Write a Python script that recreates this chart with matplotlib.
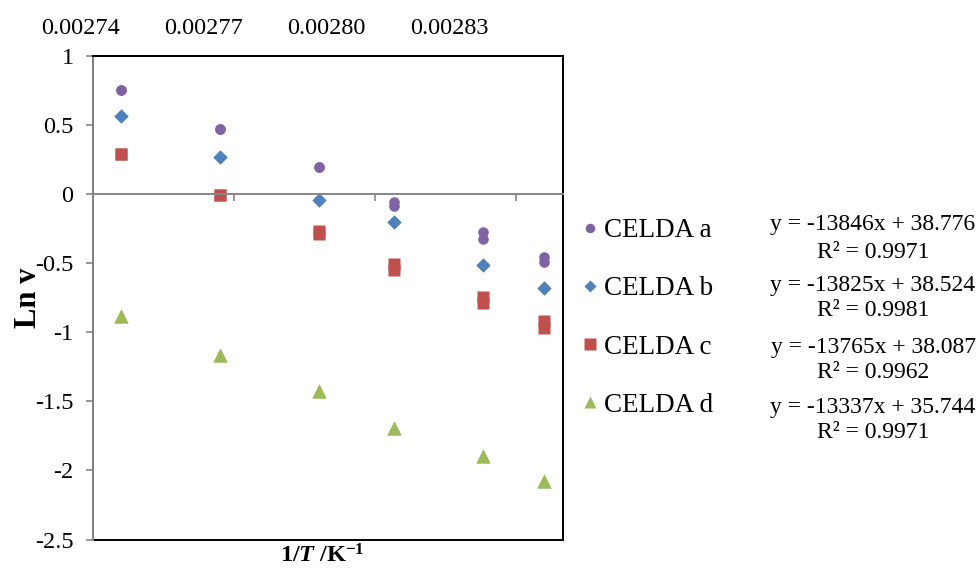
import matplotlib
matplotlib.use('Agg')
import matplotlib.pyplot as plt
from matplotlib.patches import Rectangle
from matplotlib.ticker import FuncFormatter

plt.rcParams['font.family'] = ['Liberation Serif', 'DejaVu Serif']
plt.rcParams['mathtext.fontset'] = 'custom'
plt.rcParams['mathtext.rm'] = 'Liberation Serif'
plt.rcParams['mathtext.it'] = 'Liberation Serif:italic'
plt.rcParams['mathtext.bf'] = 'Liberation Serif:bold'
plt.rcParams['mathtext.bfit'] = 'Liberation Serif:bold:italic'

# 1/T values (K^-1)
inv_T = [0.002746, 0.002767, 0.002788, 0.002804, 0.002823, 0.002836]

# Ln v, two replicates per cell (they overlap where equal)
celda_a_1 = [0.750, 0.470, 0.193, -0.061, -0.278, -0.459]
celda_a_2 = [0.750, 0.470, 0.193, -0.090, -0.323, -0.495]
celda_b_1 = [0.561, 0.270, -0.041, -0.205, -0.512, -0.680]
celda_b_2 = [0.561, 0.270, -0.041, -0.205, -0.512, -0.680]
celda_c_1 = [0.289, -0.005, -0.266, -0.510, -0.748, -0.917]
celda_c_2 = [0.289, -0.005, -0.288, -0.550, -0.789, -0.968]
celda_d_1 = [-0.886, -1.168, -1.423, -1.693, -1.894, -2.075]
celda_d_2 = [-0.886, -1.168, -1.423, -1.693, -1.894, -2.075]

labels = ['CELDA a', 'CELDA b', 'CELDA c', 'CELDA d']
eq_labels = ['y = -13846x + 38.776', 'y = -13825x + 38.524',
             'y = -13765x + 38.087', 'y = -13337x + 35.744']
r2_labels = ['R² = 0.9971', 'R² = 0.9981', 'R² = 0.9962', 'R² = 0.9971']

x_ticks = [0.00274, 0.00277, 0.00280, 0.00283]
y_ticks = [-2.5, -2, -1.5, -1, -0.5, 0, 0.5, 1]

colors = ['#8064A2', '#4F81BD', '#C0504D', '#9BBB59']
markers = ['o', 'D', 's', '^']
msizes = [7.6, 7.2, 8.8, 9.6]

W, H = 980, 569
fig = plt.figure(figsize=(W / 100, H / 100), dpi=100)
ax_l, ax_r, ax_t, ax_b = 93, 563, 55.7, 539.5
ax = fig.add_axes([ax_l / W, 1 - ax_b / H, (ax_r - ax_l) / W, (ax_b - ax_t) / H])

series = [(celda_a_1, celda_a_2), (celda_b_1, celda_b_2),
          (celda_c_1, celda_c_2), (celda_d_1, celda_d_2)]
handles = []
for (r1, r2), c, m, ms in zip(series, colors, markers, msizes):
    h, = ax.plot(inv_T, r1, ls='none', marker=m, ms=ms, color=c, mec='none')
    ax.plot(inv_T, r2, ls='none', marker=m, ms=ms, color=c, mec='none')
    handles.append(h)

ax.set_xlim(0.00274, 0.00284)
ax.set_ylim(-2.5, 1)
ax.set_yticks(y_ticks)
ax.yaxis.set_major_formatter(FuncFormatter(lambda v, p: '%g' % v))
ax.set_xticks(x_ticks)

grey = '#868686'
ax.spines['bottom'].set_position(('data', 0))
ax.spines['bottom'].set_color(grey)
ax.spines['bottom'].set_linewidth(1.4)
ax.spines['left'].set_color(grey)
ax.spines['left'].set_linewidth(1.4)
for s in ['top', 'right']:
    ax.spines[s].set_color('black')
    ax.spines[s].set_linewidth(1.4)
ax.add_patch(Rectangle((0, 0), 1, 1, transform=ax.transAxes, fill=False,
                       ec='black', lw=1.4, clip_on=False, zorder=1))

ax.tick_params(axis='x', direction='out', length=5, width=1.2, color=grey,
               labelbottom=False)
ax.tick_params(axis='y', direction='out', length=5, width=1.2, color=grey,
               labelsize=17.5, pad=9)

# top labels (offset from the ticks, as in the original)
lab0_px, lab3_px = 80.5, 449
top_l = 30
scale = (lab3_px - lab0_px) / (x_ticks[-1] - x_ticks[0])
ax_top = fig.add_axes([top_l / W, 1 - ax_b / H, (ax_r - top_l) / W, (ax_b - ax_t) / H])
ax_top.set_xlim(x_ticks[0] - (lab0_px - top_l) / scale,
                x_ticks[0] + (ax_r - lab0_px) / scale)
ax_top.set_xticks(x_ticks)
ax_top.xaxis.set_major_formatter(FuncFormatter(lambda v, p: '%.5f' % v))
ax_top.tick_params(axis='x', length=0, labeltop=True, labelbottom=False,
                   labelsize=17.5, pad=12)
ax_top.set_yticks([])
ax_top.patch.set_visible(False)
for s in ax_top.spines.values():
    s.set_visible(False)

ax.set_ylabel('Ln v', fontsize=22, fontweight='bold', va='center')
ax.yaxis.set_label_coords(-0.138, 0.5)
fig.text(322 / W, 1 - 556 / H, r'$\mathbf{1/}\mathbfit{T}\mathbf{\ /K^{-1}}$',
         fontsize=17.5, ha='center', va='center')

ax.legend(handles, labels, loc='upper left',
          bbox_to_anchor=(583.6 / W, 1 - 218 / H), bbox_transform=fig.transFigure,
          frameon=False, fontsize=19.5, handlelength=0.5, handletextpad=0.24,
          labelspacing=1.23, borderpad=0, borderaxespad=0, markerscale=0.9,
          numpoints=1)

eq_y = [225, 285, 347, 407]
r2_y = [252, 310, 372, 433]
for eq, r2, ye, yr in zip(eq_labels, r2_labels, eq_y, r2_y):
    fig.text(873 / W, 1 - ye / H, eq, fontsize=17, ha='center', va='center')
    fig.text(873 / W, 1 - yr / H, r2, fontsize=17, ha='center', va='center')

fig.savefig('out.png', dpi=100)
